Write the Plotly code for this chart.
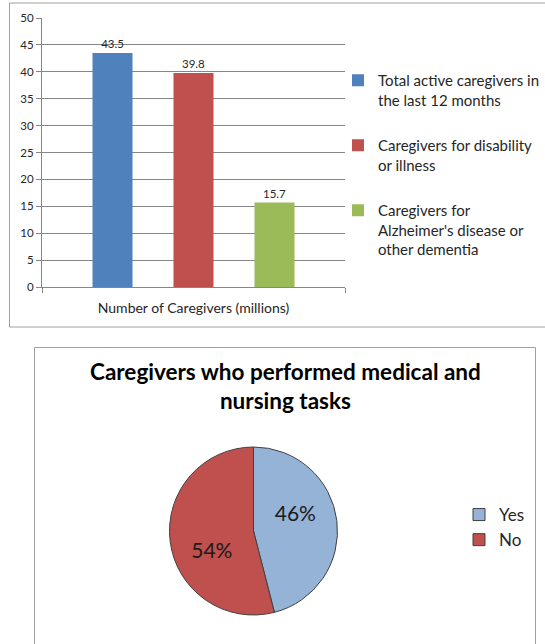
import plotly.graph_objects as go

# ---- data ----
bar_category = ["Number of Caregivers (millions)"]
bar_series = ["Total active caregivers in<br>the last 12 months",
              "Caregivers for disability<br>or illness",
              "Caregivers for<br>Alzheimer's disease or<br>other dementia"]
bar_values = [43.5, 39.8, 15.7]
bar_colors = ["#4F81BD", "#C0504D", "#9BBB59"]
y_ticks = [0, 5, 10, 15, 20, 25, 30, 35, 40, 45, 50]

pie_title = "Caregivers who performed medical and<br>nursing tasks"
pie_labels = ["Yes", "No"]
pie_values = [46, 54]
pie_colors = ["#95B3D7", "#C0504D"]

W, H = 545, 644
FONT = "Lato, Carlito, 'Liberation Sans', sans-serif"

def px(x):
    return x / W

def py(y):
    return 1 - y / H

fig = go.Figure()

for name, val, col in zip(bar_series, bar_values, bar_colors):
    fig.add_trace(go.Bar(
        x=bar_category, y=[val], name=name,
        marker=dict(color=col, line=dict(width=0)),
        text=[f"{val}"], textposition="outside",
        textfont=dict(size=11.5, color="#262626", family=FONT),
        cliponaxis=False,
        legendgroup=name, legend="legend",
    ))

fig.add_trace(go.Pie(
    labels=pie_labels, values=pie_values,
    marker=dict(colors=pie_colors, line=dict(color="#404040", width=1)),
    sort=False, direction="clockwise", rotation=0,
    textinfo="percent", textposition="inside",
    texttemplate=["%{percent}<br> ", " <br>%{percent}"],
    insidetextorientation="horizontal",
    textfont=dict(size=21, color="#1a1a1a", family=FONT),
    domain=dict(x=[px(169.5), px(337.5)], y=[py(615), py(447)]),
    legend="legend2", showlegend=True,
))

fig.update_layout(
    width=W, height=H,
    margin=dict(l=0, r=0, t=0, b=0),
    paper_bgcolor="white", plot_bgcolor="white",
    font=dict(family=FONT, color="#262626"),
    barmode="group", bargap=0.198, bargroupgap=0.506,
    xaxis=dict(domain=[px(42), px(345)], type="category", automargin=False,
               showline=True, linecolor="#868686", linewidth=1,
               ticks="outside", tickson="boundaries", ticklen=5,
               tickcolor="#868686", showgrid=False,
               tickfont=dict(size=14, color="#262626"),
               ticklabelstandoff=8),
    yaxis=dict(domain=[py(287), py(18)], range=[0, 50], automargin=False,
               tickvals=y_ticks, ticks="outside", ticklen=5,
               tickcolor="#868686", showline=True, linecolor="#868686",
               linewidth=1, showgrid=True, gridcolor="#868686",
               gridwidth=1, zeroline=False,
               tickfont=dict(size=11.5, color="#262626")),
    legend=dict(x=1, y=py(64), xanchor="right", yanchor="top",
                font=dict(size=15, color="#262626"),
                tracegroupgap=23, valign="top", itemsizing="constant",
                bgcolor="rgba(0,0,0,0)", traceorder="grouped"),
    legend2=dict(x=px(459), y=py(497), xanchor="left", yanchor="top",
                 font=dict(size=17, color="#262626"),
                 bgcolor="rgba(0,0,0,0)"),
    showlegend=True,
    shapes=[
        dict(type="rect", xref="paper", yref="paper",
             x0=px(9.5), x1=px(560), y0=py(327), y1=py(3),
             line=dict(color="#A0A0A0", width=1), fillcolor="rgba(0,0,0,0)"),
        dict(type="rect", xref="paper", yref="paper",
             x0=px(34.5), x1=px(535.5), y0=py(660), y1=py(347.5),
             line=dict(color="#A0A0A0", width=1), fillcolor="rgba(0,0,0,0)"),
    ],
    annotations=[
        dict(text=f"<b>{pie_title}</b>", xref="paper", yref="paper",
             x=px(285), y=py(386), xanchor="center", yanchor="middle",
             showarrow=False, font=dict(size=22.5, color="#000000", family=FONT)),
    ],
)

post = ("document.body.style.margin='0';document.body.style.overflow='hidden';"
        "document.documentElement.style.overflow='hidden';"
        "var d=document.getElementById('{plot_id}');"
        "d.style.position='absolute';d.style.left='0px';d.style.top='0px';")
fig.write_html("out.html", post_script=post, config={"displayModeBar": False})
